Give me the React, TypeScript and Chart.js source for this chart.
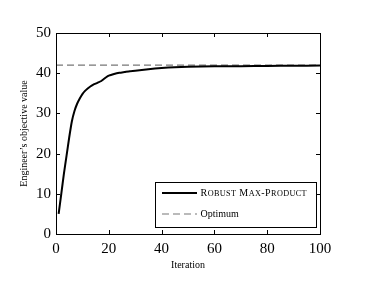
import React, { useEffect, useRef } from "react";
import { Chart, registerables } from "chart.js";

Chart.register(...registerables);

const iterations = [1, 2, 3, 4, 5, 6, 7, 8, 9, 10, 11, 12, 13, 14, 15, 16, 17, 18, 19, 20, 22, 24, 26, 28, 30, 35, 40, 45, 50, 60, 70, 80, 90, 100];
const robustValues = [5, 10, 15, 19.5, 24, 28.0, 30.6, 32.4, 33.7, 34.8, 35.6, 36.2, 36.7, 37.1, 37.4, 37.7, 38.0, 38.5, 39.0, 39.4, 39.8, 40.1, 40.3, 40.5, 40.6, 41.0, 41.3, 41.5, 41.6, 41.7, 41.75, 41.8, 41.85, 41.9];
const optimumValue = 42;
const xTicks = [0, 20, 40, 60, 80, 100];
const yTicks = [0, 10, 20, 30, 40, 50];
const seriesLabels = ["Robust Max-Product", "Optimum"];

const FONT = "'Liberation Serif', 'DejaVu Serif', serif";

function drawSmallCaps(ctx: CanvasRenderingContext2D, text: string, x: number, y: number, big: number, small: number) {
  let cx = x;
  for (const ch of text) {
    const isLower = /[a-z]/.test(ch);
    const size = isLower ? small : big;
    ctx.font = `${size}px ${FONT}`;
    const c = ch.toUpperCase();
    ctx.fillText(c, cx, y);
    cx += ctx.measureText(c).width + (isLower ? 0.35 : 0.5);
  }
}

const framePlugin = {
  id: "frame",
  afterDraw(chart: any) {
    const { ctx, chartArea } = chart;
    const { left, right, top, bottom } = chartArea;
    const xs = chart.scales.x;
    const ys = chart.scales.y;
    ctx.save();
    ctx.strokeStyle = "#000";
    ctx.lineWidth = 1;
    ctx.strokeRect(Math.round(left) + 0.5, Math.round(top) + 0.5, Math.round(right - left), Math.round(bottom - top));
    const tl = 4;
    ctx.beginPath();
    for (const v of xTicks) {
      const px = Math.round(xs.getPixelForValue(v)) + 0.5;
      ctx.moveTo(px, bottom);
      ctx.lineTo(px, bottom - tl);
      ctx.moveTo(px, top);
      ctx.lineTo(px, top + tl);
    }
    for (const v of yTicks) {
      const py = Math.round(ys.getPixelForValue(v)) + 0.5;
      ctx.moveTo(left, py);
      ctx.lineTo(left + tl, py);
      ctx.moveTo(right, py);
      ctx.lineTo(right - tl, py);
    }
    ctx.stroke();

    // legend box
    const bx = 155.5, by = 182.5, bw = 161, bh = 45;
    ctx.fillStyle = "#fff";
    ctx.fillRect(bx, by, bw, bh);
    ctx.strokeRect(bx, by, bw, bh);
    ctx.lineWidth = 2;
    ctx.strokeStyle = "#000";
    ctx.beginPath();
    ctx.moveTo(162, 193);
    ctx.lineTo(197, 193);
    ctx.stroke();
    ctx.lineWidth = 1.2;
    ctx.strokeStyle = "#777";
    ctx.setLineDash([7, 4]);
    ctx.beginPath();
    ctx.moveTo(162, 214);
    ctx.lineTo(197, 214);
    ctx.stroke();
    ctx.setLineDash([]);
    ctx.fillStyle = "#000";
    ctx.textBaseline = "middle";
    ctx.textAlign = "left";
    drawSmallCaps(ctx, seriesLabels[0], 200.5, 193.5, 10, 8.2);
    ctx.font = `10px ${FONT}`;
    ctx.fillText(seriesLabels[1], 200.5, 214);
    ctx.restore();
  },
};

export default function App() {
  const ref = useRef<HTMLCanvasElement>(null);
  useEffect(() => {
    if (!ref.current) return;
    const chart = new Chart(ref.current, {
      type: "line",
      data: {
        datasets: [
          {
            label: seriesLabels[0],
            data: iterations.map((x, i) => ({ x, y: robustValues[i] })),
            borderColor: "#000",
            borderWidth: 2,
            pointRadius: 0,
            tension: 0.2,
            fill: false,
            order: 1,
          },
          {
            label: seriesLabels[1],
            data: [
              { x: 0, y: optimumValue },
              { x: 100, y: optimumValue },
            ],
            borderColor: "#777",
            borderWidth: 1.2,
            borderDash: [7, 4],
            pointRadius: 0,
            fill: false,
            order: 2,
          },
        ],
      },
      options: {
        animation: false,
        responsive: true,
        maintainAspectRatio: false,
        layout: { padding: { left: 0, right: 45, top: 33, bottom: 0 } },
        plugins: { legend: { display: false }, tooltip: { enabled: false } },
        scales: {
          x: {
            type: "linear",
            min: 0,
            max: 100,
            afterBuildTicks: (s: any) => {
              s.ticks = xTicks.map((v) => ({ value: v }));
            },
            afterFit: (s: any) => {
              s.height = 47;
            },
            grid: { display: false, drawTicks: false },
            border: { display: false },
            ticks: { color: "#000", font: { family: FONT, size: 15 }, padding: 6, maxRotation: 0 },
            title: {
              display: true,
              text: "Iteration",
              color: "#000",
              font: { family: FONT, size: 10 },
              padding: { top: 0, bottom: 10 },
            },
          },
          y: {
            type: "linear",
            min: 0,
            max: 50,
            afterBuildTicks: (s: any) => {
              s.ticks = yTicks.map((v) => ({ value: v }));
            },
            afterFit: (s: any) => {
              s.width = 56;
            },
            grid: { display: false, drawTicks: false },
            border: { display: false },
            ticks: { color: "#000", font: { family: FONT, size: 15 }, padding: 5 },
            title: {
              display: true,
              text: "Engineer’s objective value",
              color: "#000",
              font: { family: FONT, size: 10 },
              padding: { top: 18, bottom: 0 },
            },
          },
        },
      },
      plugins: [framePlugin],
    });
    return () => chart.destroy();
  }, []);
  return (
    <div style={{ position: "fixed", left: 0, top: 0, width: 365, height: 281, background: "#fff" }}>
      <canvas ref={ref} />
    </div>
  );
}
